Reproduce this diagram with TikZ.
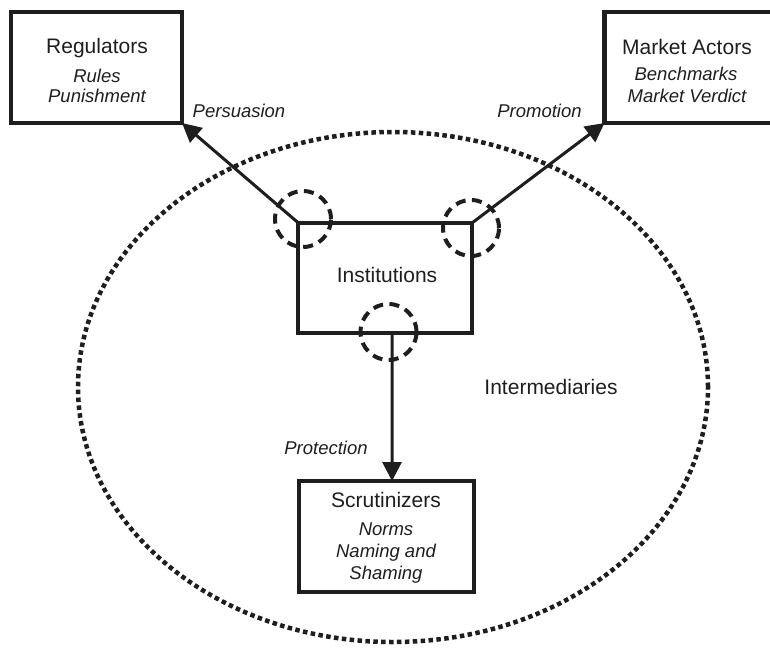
\documentclass[tikz,border=0pt]{standalone}
\usepackage{fontspec}
\setmainfont{Liberation Sans}
\usetikzlibrary{arrows.meta}
\definecolor{ink}{HTML}{1E1E1E}
\begin{document}
\begin{tikzpicture}[x=1pt,y=-1pt,
  box/.style={draw=ink,line width=4.8pt,rectangle,inner sep=0pt,outer sep=0pt},
  title/.style={anchor=base,inner sep=0pt,text=ink,font=\fontsize{21}{24}\selectfont},
  sub/.style={anchor=base,inner sep=0pt,text=ink,font=\fontsize{18.5}{22}\selectfont\itshape},
  link/.style={draw=ink,line width=3pt,-{Triangle[length=19pt,width=19pt]}},
  joint/.style={draw=ink,line width=4pt,dash pattern=on 10pt off 6.5pt},
  realm/.style={draw=ink,line width=4.5pt,dash pattern=on 4.5pt off 3.4pt}]
\path[use as bounding box,clip] (0,0) rectangle (770,654);

% the field of intermediaries
\draw[realm] (393,387) ellipse [x radius=315pt,y radius=255pt];
\node[title] (interm) at (551,394) {Intermediaries};

% actor boxes
\node[box,minimum width=171pt,minimum height=111pt] (reg) at (96.5,67.5) {};
\node[box,minimum width=210pt,minimum height=111pt] (mkt) at (709.5,67.5) {};
\node[box,line width=4pt,minimum width=173.5pt,minimum height=110pt] (inst) at (385.2,278) {};
\node[box,minimum width=175pt,minimum height=111pt] (scr) at (386.5,536.5) {};

% box texts
\node[title] (regT) at (97,53) {Regulators};
\node[sub] (regA) at (97,82) {Rules};
\node[sub] (regB) at (97,102) {Punishment};
\node[title] (mktT) at (687,54) {Market Actors};
\node[sub] (mktA) at (686,80) {Benchmarks};
\node[sub] (mktB) at (687,102) {Market Verdict};
\node[title] (instT) at (387,282) {Institutions};
\node[title] (scrT) at (386,507) {Scrutinizers};
\node[sub] (scrA) at (386,535) {Norms};
\node[sub] (scrB) at (386,557) {Naming and};
\node[sub] (scrC) at (386,579) {Shaming};

% channels of influence
\draw[link] (inst.north west) -- (reg.south east);
\draw[link] (inst.north east) -- (mkt.south west);
\draw[link] ([xshift=7pt]inst.south) -- ([xshift=5.5pt]scr.north);

\node[sub] (pers) at (239,117) {Persuasion};
\node[sub] (prom) at (539.5,117) {Promotion};
\node[sub] (prot) at (326,454) {Protection};

% contact points on the institutions box
\draw[joint] (303,219) circle [radius=28pt];
\draw[joint] (471,228) circle [radius=28pt];
\draw[joint] (388.5,332) circle [radius=28pt];
\end{tikzpicture}
\end{document}
